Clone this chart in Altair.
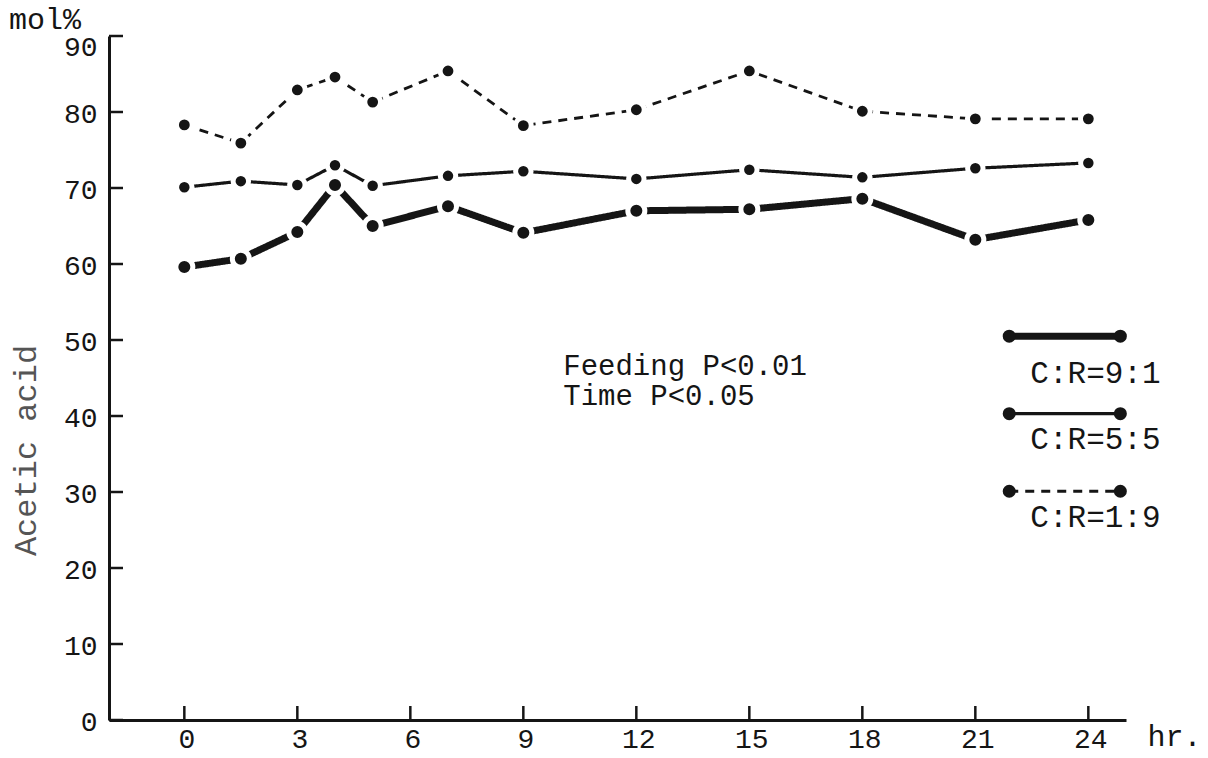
import altair as alt
import pandas as pd

# ---- data ----
hours = [0, 1.5, 3, 4, 5, 7, 9, 12, 15, 18, 21, 24]
cr_9_1 = [59.6, 60.7, 64.2, 70.4, 65.0, 67.6, 64.1, 67.0, 67.2, 68.6, 63.2, 65.8]
cr_5_5 = [70.1, 70.9, 70.4, 73.0, 70.3, 71.6, 72.2, 71.2, 72.4, 71.4, 72.6, 73.3]
cr_1_9 = [78.3, 75.9, 82.9, 84.6, 81.3, 85.4, 78.2, 80.3, 85.4, 80.1, 79.1, 79.1]
series_names = ["C:R=9:1", "C:R=5:5", "C:R=1:9"]
x_ticks = [0, 3, 6, 9, 12, 15, 18, 21, 24]
y_ticks = [0, 10, 20, 30, 40, 50, 60, 70, 80, 90]
note_lines = ["Feeding P<0.01", "Time P<0.05"]

FONT = "Liberation Mono"
INK = "#151515"
W, H = 1017, 684

xs = alt.Scale(domain=[-2, 25], nice=False, zero=False)
ys = alt.Scale(domain=[0, 90], nice=False, zero=False)

x_axis = alt.Axis(values=x_ticks, ticks=False, grid=False, domainWidth=3, domainColor=INK,
                  labelFont=FONT, labelFontSize=28, labelColor=INK, labelPadding=5,
                  labelOverlap=False, labelOffset=2, title="hr.", titleFont=FONT, titleFontSize=30,
                  titleFontWeight="normal", titleColor=INK, titleX=1038, titleY=16,
                  titleAlign="left", titleBaseline="middle")
y_axis = alt.Axis(values=y_ticks, ticks=False, grid=False, domainWidth=3, domainColor=INK,
                  labelFont=FONT, labelFontSize=28, labelColor=INK, labelPadding=12,
                  labelOverlap=False,
                  labelOffset=alt.condition("datum.value == 90", alt.value(11), alt.value(2)),
                  title="Acetic acid", titleFont=FONT, titleFontSize=32,
                  titleFontWeight="normal", titleColor="#555555", titleAngle=270,
                  titleX=-84, titleY=414, titleAlign="center", titleBaseline="middle")


def X(field):
    return alt.X(field, type="quantitative", scale=xs, axis=x_axis)


def Y(field):
    return alt.Y(field, type="quantitative", scale=ys, axis=y_axis)


df = pd.DataFrame({
    "hr": hours * 3,
    "v": cr_9_1 + cr_5_5 + cr_1_9,
    "s": [series_names[0]] * len(hours) + [series_names[1]] * len(hours) + [series_names[2]] * len(hours),
})

styles = {
    "C:R=9:1": dict(strokeWidth=7, dash=[1, 0], size=290),
    "C:R=5:5": dict(strokeWidth=3.2, dash=[1, 0], size=240),
    "C:R=1:9": dict(strokeWidth=2.8, dash=[9, 7], size=250),
}

layers = []
for name in series_names:
    st = styles[name]
    sub = alt.Chart(df).transform_filter(alt.datum.s == name)
    layers.append(sub.mark_line(color=INK, strokeWidth=st["strokeWidth"],
                                strokeDash=st["dash"]).encode(x=X("hr"), y=Y("v")))
for name in series_names:
    st = styles[name]
    sub = alt.Chart(df).transform_filter(alt.datum.s == name)
    layers.append(sub.mark_circle(fill=INK, opacity=1, stroke="white", strokeWidth=5,
                                  size=st["size"]).encode(x=X("hr"), y=Y("v")))

# inward tick marks
ytick_df = pd.DataFrame({"t": y_ticks})
xtick_df = pd.DataFrame({"t": x_ticks})
layers.append(alt.Chart(ytick_df).mark_rule(color=INK, strokeWidth=2.5).encode(
    y=Y("t"), x=alt.value(0), x2=alt.value(14)))
layers.append(alt.Chart(xtick_df).mark_rule(color=INK, strokeWidth=2.5).encode(
    x=X("t"), y=alt.value(H), y2=alt.value(H - 14)))

# unit label at top of y axis
layers.append(alt.Chart(pd.DataFrame({"t": ["mol%"]})).mark_text(
    font=FONT, fontSize=30, color=INK, align="left", baseline="middle").encode(
    text="t:N", x=alt.value(-100), y=alt.value(-16)))

# statistics note
note_df = pd.DataFrame({"t": note_lines, "x": [10.06, 10.06], "y": [46.6, 42.6]})
layers.append(alt.Chart(note_df).mark_text(
    font=FONT, fontSize=29, color=INK, align="left", baseline="middle").encode(
    text="t:N", x=X("x"), y=Y("y")))

# hand-drawn style legend
leg_df = pd.DataFrame({
    "s": series_names,
    "x1": [21.9, 21.9, 21.9],
    "x2": [24.85, 24.85, 24.85],
    "y": [50.5, 40.3, 30.1],
    "ly": [45.5, 36.8, 26.6],
    "lx": [22.46, 22.46, 22.46],
})
for name in series_names:
    st = styles[name]
    sub = alt.Chart(leg_df).transform_filter(alt.datum.s == name)
    layers.append(sub.mark_rule(color=INK, strokeWidth=st["strokeWidth"],
                                strokeDash=st["dash"]).encode(
        x=X("x1"), x2="x2", y=Y("y")))
    layers.append(sub.transform_fold(["x1", "x2"], as_=["k", "px"]).mark_circle(
        fill=INK, opacity=1, size=170).encode(x=X("px"), y=Y("y")))
layers.append(alt.Chart(leg_df).mark_text(
    font=FONT, fontSize=31, color=INK, align="left", baseline="middle").encode(
    text="s:N", x=X("lx"), y=Y("ly")))

chart = alt.layer(*layers).properties(
    width=W, height=H,
    autosize=alt.AutoSizeParams(type="none"),
    padding={"left": 109, "top": 36, "right": 82, "bottom": 38},
    background="white",
).configure_view(stroke=None)

chart.save("out.html", embed_options={"renderer": "svg", "actions": False})
